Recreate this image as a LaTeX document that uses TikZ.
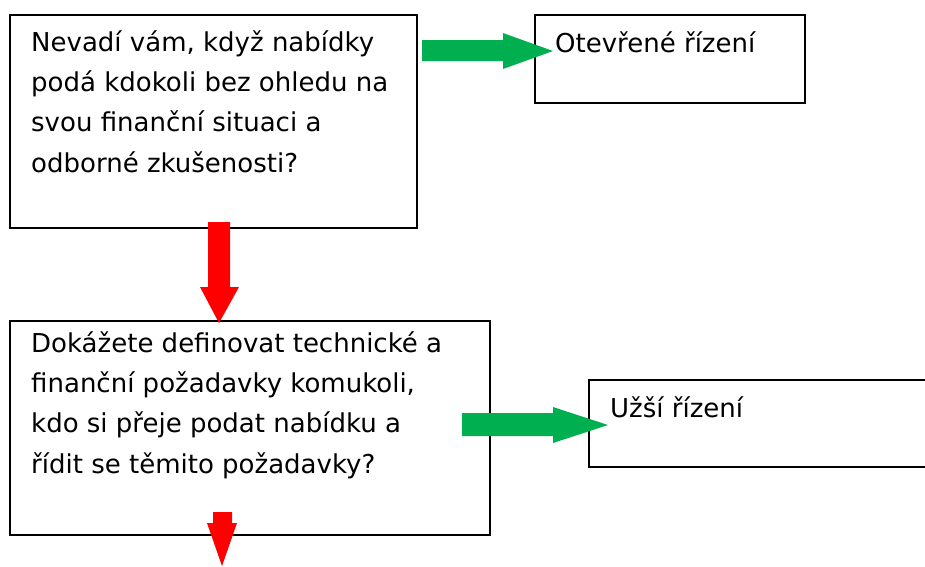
\documentclass[tikz,border=0pt]{standalone}
\usepackage{fontspec}
\setmainfont{DejaVu Sans}
\definecolor{arrowgreen}{RGB}{0,176,80}
\definecolor{arrowred}{RGB}{255,0,0}
\begin{document}
\begin{tikzpicture}[x=1pt,y=-1pt,
  box/.style={draw=black,line width=1.8pt,fill=white},
  label/.style={anchor=base west,inner sep=0pt,font=\fontsize{26}{40.2}\selectfont,align=left},
  greenarrow/.style={fill=arrowgreen,draw=none},
  redarrow/.style={fill=arrowred,draw=none}]
\useasboundingbox (0,0) rectangle (925,566);

% boxes
\draw[box] (10,15) rectangle (417,228);
\draw[box] (535,15) rectangle (805,103);
\draw[box] (10,321) rectangle (490,535);
\draw[box] (589,380) rectangle (930,467);

% texts (multi-line nodes are placed by the baseline of their last line)
\node[label] (q1) at (31,172) {Nevadí vám, když nabídky\\podá kdokoli bez ohledu na\\svou finanční situaci a\\odborné zkušenosti?};
\node[label] (open) at (555,52) {Otevřené řízení};
\node[label] (q2) at (31,473) {Dokážete definovat technické a\\finanční požadavky komukoli,\\kdo si přeje podat nabídku a\\řídit se těmito požadavky?};
\node[label] (restricted) at (610,417) {Užší řízení};

% block arrows
\fill[greenarrow] (422,40) -- (503,40) -- (503,33) -- (553,51) -- (503,69) -- (503,61) -- (422,61) -- cycle;
\fill[greenarrow] (462,413) -- (553,413) -- (553,407) -- (608,425) -- (553,443) -- (553,436) -- (462,436) -- cycle;
\fill[redarrow] (208,222) -- (230,222) -- (230,287) -- (239,287) -- (219,323) -- (200,287) -- (208,287) -- cycle;
\fill[redarrow] (213,512) -- (232,512) -- (232,523) -- (237,523) -- (222,566) -- (207,523) -- (213,523) -- cycle;
\end{tikzpicture}
\end{document}
